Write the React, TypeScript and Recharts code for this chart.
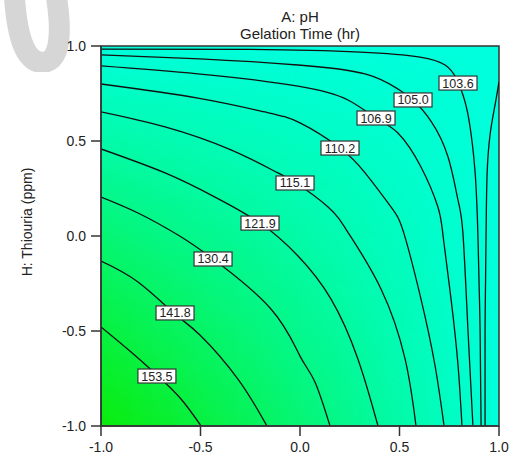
import React from "react";
import { ComposedChart, Line, ReferenceArea, Scatter, XAxis, YAxis } from "recharts";

type Pt = { x: number; y: number };

const xTicks = [-1, -0.5, 0, 0.5, 1];
const yTicks = [-1, -0.5, 0, 0.5, 1];

// contour levels, same order as the lines below
const levels = [153.5, 141.8, 130.4, 121.9, 115.1, 110.2, 106.9, 105.0, 103.6];

const line1535: Pt[] = [
  { x: -1, y: -0.479 }, { x: -0.849, y: -0.611 }, { x: -0.714, y: -0.737 },
  { x: -0.598, y: -0.858 }, { x: -0.497, y: -1 },
];
const line1418: Pt[] = [
  { x: -1, y: -0.132 }, { x: -0.814, y: -0.242 }, { x: -0.628, y: -0.411 },
  { x: -0.503, y: -0.521 }, { x: -0.312, y: -0.753 }, { x: -0.166, y: -1 },
];
const line1304: Pt[] = [
  { x: -1, y: 0.205 }, { x: -0.814, y: 0.121 }, { x: -0.613, y: 0.005 },
  { x: -0.437, y: -0.121 }, { x: -0.146, y: -0.384 }, { x: 0, y: -0.632 },
  { x: 0.075, y: -0.768 }, { x: 0.151, y: -1 },
];
const line1219: Pt[] = [
  { x: -1, y: 0.458 }, { x: -0.678, y: 0.332 }, { x: -0.427, y: 0.205 },
  { x: -0.201, y: 0.068 }, { x: -0.01, y: -0.105 }, { x: 0.156, y: -0.332 },
  { x: 0.291, y: -0.647 }, { x: 0.392, y: -1 },
];
const line1151: Pt[] = [
  { x: -1, y: 0.653 }, { x: -0.678, y: 0.574 }, { x: -0.347, y: 0.453 },
  { x: -0.111, y: 0.332 }, { x: -0.02, y: 0.279 }, { x: 0.141, y: 0.153 },
  { x: 0.246, y: 0.011 }, { x: 0.407, y: -0.279 }, { x: 0.528, y: -0.647 },
  { x: 0.583, y: -1 },
];
const line1102: Pt[] = [
  { x: -1, y: 0.8 }, { x: -0.513, y: 0.726 }, { x: -0.176, y: 0.653 },
  { x: 0, y: 0.595 }, { x: 0.201, y: 0.463 }, { x: 0.327, y: 0.332 },
  { x: 0.457, y: 0.153 }, { x: 0.523, y: 0.011 }, { x: 0.608, y: -0.332 },
  { x: 0.678, y: -0.679 }, { x: 0.724, y: -1 },
];
const line1069: Pt[] = [
  { x: -1, y: 0.895 }, { x: -0.513, y: 0.853 }, { x: -0.01, y: 0.789 },
  { x: 0.241, y: 0.716 }, { x: 0.382, y: 0.621 }, { x: 0.492, y: 0.542 },
  { x: 0.608, y: 0.363 }, { x: 0.693, y: 0.153 }, { x: 0.719, y: 0 },
  { x: 0.759, y: -0.332 }, { x: 0.794, y: -0.679 }, { x: 0.814, y: -1 },
];
const line1050: Pt[] = [
  { x: -1, y: 0.953 }, { x: -0.503, y: 0.932 }, { x: -0.01, y: 0.9 },
  { x: 0.327, y: 0.853 }, { x: 0.492, y: 0.774 }, { x: 0.568, y: 0.716 },
  { x: 0.658, y: 0.605 }, { x: 0.744, y: 0.416 }, { x: 0.794, y: 0.189 },
  { x: 0.819, y: 0.011 }, { x: 0.844, y: -0.495 }, { x: 0.869, y: -1 },
];
const line1036: Pt[] = [
  { x: -1, y: 0.984 }, { x: -0.251, y: 0.982 }, { x: 0.302, y: 0.968 },
  { x: 0.603, y: 0.942 }, { x: 0.729, y: 0.9 }, { x: 0.784, y: 0.832 },
  { x: 0.819, y: 0.742 }, { x: 0.849, y: 0.611 }, { x: 0.879, y: 0.347 },
  { x: 0.894, y: 0.005 }, { x: 0.905, y: -0.495 }, { x: 0.91, y: -1 },
];
// unlabelled contour coming in from the right edge
const lineEdge: Pt[] = [
  { x: 1, y: 0.811 }, { x: 0.98, y: 0.689 }, { x: 0.955, y: 0.532 },
  { x: 0.94, y: 0.321 }, { x: 0.935, y: 0.005 }, { x: 0.93, y: -0.495 },
  { x: 0.93, y: -1 },
];

const contours = [line1535, line1418, line1304, line1219, line1151, line1102, line1069, line1050, line1036, lineEdge];

const labelX = [-0.719, -0.628, -0.437, -0.201, -0.025, 0.201, 0.382, 0.568, 0.794];
const labelY = [-0.737, -0.405, -0.121, 0.068, 0.279, 0.463, 0.621, 0.716, 0.805];

const labels = levels.map((v, i) => ({ x: labelX[i], y: labelY[i], v }));

const FONT = "Arial, 'Liberation Sans', sans-serif";
const INK = "#333";
const LOW = "#00ffdc";
const HIGH = "#0aec0a";

const PlotBackground = (props: any) => {
  const { x, y, width, height } = props;
  return (
    <g>
      <defs>
        <linearGradient id="fadeX" x1="0" y1="0" x2="1" y2="0">
          <stop offset="0" stopColor="#fff" stopOpacity={1} />
          <stop offset="1" stopColor="#fff" stopOpacity={0} />
        </linearGradient>
        <linearGradient id="fadeY" x1="0" y1="1" x2="0" y2="0">
          <stop offset="0" stopColor="#fff" stopOpacity={1} />
          <stop offset="1" stopColor="#fff" stopOpacity={0} />
        </linearGradient>
        <mask id="maskX" maskUnits="userSpaceOnUse" x={x} y={y} width={width} height={height}>
          <rect x={x} y={y} width={width} height={height} fill="url(#fadeX)" />
        </mask>
        <mask id="maskY" maskUnits="userSpaceOnUse" x={x} y={y} width={width} height={height}>
          <rect x={x} y={y} width={width} height={height} fill="url(#fadeY)" />
        </mask>
      </defs>
      <rect x={x} y={y} width={width} height={height} fill={LOW} />
      <g mask="url(#maskY)">
        <rect x={x} y={y} width={width} height={height} fill={HIGH} mask="url(#maskX)" />
      </g>
      <rect x={x} y={y} width={width} height={height} fill="none" stroke={INK} strokeWidth={1.5} />
    </g>
  );
};

const LabelBox = (props: any) => {
  const { cx, cy, payload } = props;
  return (
    <g>
      <rect x={cx - 19} y={cy - 7} width={38} height={14} fill="#fff" stroke={INK} strokeWidth={1.2} />
      <text x={cx} y={cy + 4.5} textAnchor="middle" fontSize={12.5} fontFamily={FONT} fill="#222">
        {payload.v.toFixed(1)}
      </text>
    </g>
  );
};

const TopTitles = (props: any) => {
  const vb = props.viewBox;
  const cx = vb.x + vb.width / 2;
  return (
    <g fontFamily={FONT} fontSize={15} fill="#222" textAnchor="middle">
      <text x={cx} y={vb.y + 14}>A: pH</text>
      <text x={cx} y={vb.y + 31}>Gelation Time (hr)</text>
    </g>
  );
};

const YTitle = (props: any) => {
  const vb = props.viewBox;
  const x = vb.x + 7;
  const y = vb.y + vb.height / 2 - 14;
  return (
    <text
      x={x}
      y={y}
      transform={`rotate(-90 ${x} ${y})`}
      textAnchor="middle"
      dominantBaseline="central"
      fontFamily={FONT}
      fontSize={14}
      fill="#222"
    >
      H: Thiouria (ppm)
    </text>
  );
};

export default function App() {
  return (
    <div style={{ position: "relative", width: 503, height: 451, padding: "8px 0 0 8px" }}>
      <style>{"body{margin:0}"}</style>
      <svg width={72} height={72} style={{ position: "absolute", left: 0, top: 0 }}>
        <path d="M 14 -10 Q 18 68 46 62 Q 66 56 56 -6" fill="none" stroke="#d6d6d6" strokeWidth={21} strokeLinecap="round" />
      </svg>
      <ComposedChart width={503} height={451} margin={{ top: 0, right: 12, bottom: 3, left: 12 }}>
        <XAxis
          xAxisId="top"
          orientation="top"
          type="number"
          dataKey="x"
          domain={[-1, 1]}
          height={38}
          tick={false}
          tickLine={false}
          axisLine={false}
          label={{ content: TopTitles }}
        />
        <XAxis
          type="number"
          dataKey="x"
          domain={[-1, 1]}
          ticks={xTicks}
          allowDataOverflow
          height={30}
          tickSize={10}
          tickMargin={6}
          tickFormatter={(v: number) => v.toFixed(1)}
          tick={{ fontSize: 14, fontFamily: FONT, fill: "#222" }}
          axisLine={{ stroke: INK, strokeWidth: 1.5 }}
          tickLine={{ stroke: INK, strokeWidth: 1.5 }}
        />
        <YAxis
          type="number"
          dataKey="y"
          domain={[-1, 1]}
          ticks={yTicks}
          allowDataOverflow
          width={81}
          tickSize={10}
          tickMargin={5}
          tickFormatter={(v: number) => v.toFixed(1)}
          tick={{ fontSize: 14, fontFamily: FONT, fill: "#222" }}
          axisLine={{ stroke: INK, strokeWidth: 1.5 }}
          tickLine={{ stroke: INK, strokeWidth: 1.5 }}
          label={{ content: YTitle }}
        />
        <ReferenceArea x1={-1} x2={1} y1={-1} y2={1} shape={PlotBackground} />
        {contours.map((pts, i) => (
          <Line
            key={i}
            data={pts}
            dataKey="y"
            type="natural"
            stroke="#111"
            strokeWidth={1.3}
            dot={false}
            activeDot={false}
            isAnimationActive={false}
          />
        ))}
        <Scatter data={labels} dataKey="y" shape={LabelBox} isAnimationActive={false} />
      </ComposedChart>
    </div>
  );
}
